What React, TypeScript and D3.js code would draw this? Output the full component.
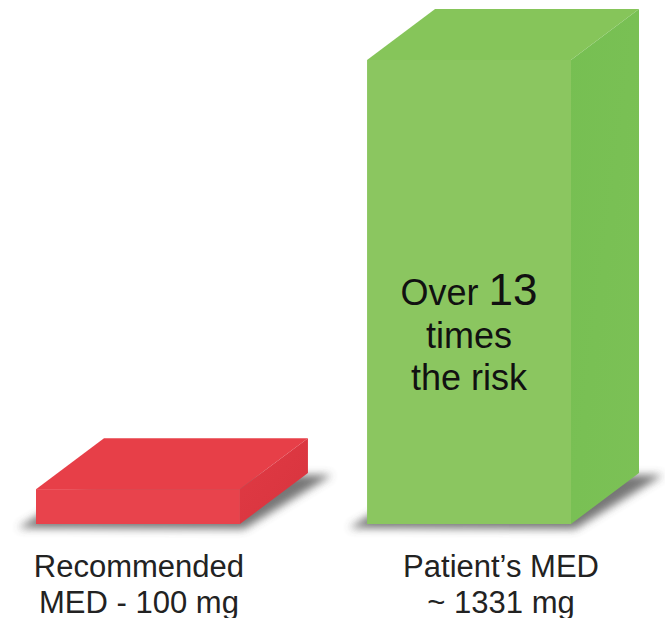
import React from 'react';
import * as d3 from 'd3';

const categories = ['Recommended', 'Patient'];
const medValues = [100, 1331];
const labelLines = [
  ['Recommended', 'MED - 100 mg'],
  ["Patient\u2019s MED", '~ 1331 mg'],
];
const barColors = [
  { top: '#e73f48', front: '#e8434c', side: '#d8343e', sideDark: '#e03a44' },
  { top: '#86c55a', front: '#8bc660', side: '#7cc156', sideDark: '#76bf52' },
];

const WIDTH = 665;
const HEIGHT = 618;
const BASE_Y = 524;
const DEPTH_X = 68;
const DEPTH_Y = -51;
const LABEL_DX = [1, 32];
const FONT = '"Liberation Sans", Arial, Helvetica, sans-serif';

export default function App() {
  const xScale = d3
    .scaleBand<string>()
    .domain(categories)
    .range([36, 571])
    .paddingInner(0.384)
    .paddingOuter(0);

  const yScale = d3
    .scaleLinear()
    .domain([0, 1331])
    .range([BASE_Y, 60]);

  const bw = xScale.bandwidth();
  const pts = (p: [number, number][]) => p.map((d) => d.join(',')).join(' ');

  const bars = categories.map((c, i) => {
    const x0 = xScale(c) ?? 0;
    const x1 = x0 + bw;
    const yTop = yScale(medValues[i]);
    const col = barColors[i];
    const shadow: [number, number][] = [
      [x0 - 18, BASE_Y + 4],
      [x1 + 4, BASE_Y + 5],
      [x1 + DEPTH_X + 24, BASE_Y + DEPTH_Y + 2],
      [x0 + DEPTH_X, BASE_Y + DEPTH_Y + 2],
    ];
    const top: [number, number][] = [
      [x0, yTop],
      [x0 + DEPTH_X, yTop + DEPTH_Y],
      [x1 + DEPTH_X, yTop + DEPTH_Y],
      [x1, yTop],
    ];
    const side: [number, number][] = [
      [x1, yTop],
      [x1 + DEPTH_X, yTop + DEPTH_Y],
      [x1 + DEPTH_X, BASE_Y + DEPTH_Y],
      [x1, BASE_Y],
    ];
    return (
      <g key={c}>
        <polygon points={pts(shadow)} fill="#4a4a4a" opacity={0.75} filter="url(#blur)" />
        <polygon points={pts(top)} fill={col.top} />
        <polygon points={pts(side)} fill={`url(#side${i})`} />
        <rect x={x0} y={yTop} width={bw} height={BASE_Y - yTop} fill={col.front} />
      </g>
    );
  });

  // category labels under the bars
  const labels = categories.map((c, i) => {
    const cx = (xScale(c) ?? 0) + bw / 2 + LABEL_DX[i];
    return (
      <text
        key={c}
        x={cx}
        textAnchor="middle"
        fontFamily={FONT}
        fontSize={31}
        fill="#222"
      >
        <tspan x={cx} y={577}>{labelLines[i][0]}</tspan>
        <tspan x={cx} y={613}>{labelLines[i][1]}</tspan>
      </text>
    );
  });

  const gx = (xScale('Patient') ?? 0) + bw / 2;

  return (
    <svg
      width={WIDTH}
      height={HEIGHT}
      style={{ position: 'absolute', left: 0, top: 0, background: '#fff' }}
    >
      <defs>
        <filter id="blur" x="-20%" y="-50%" width="140%" height="200%">
          <feGaussianBlur stdDeviation="4" />
        </filter>
        {barColors.map((col, i) => (
          <linearGradient key={i} id={`side${i}`} x1="0" y1="0" x2="1" y2="1">
            <stop offset="0%" stopColor={col.sideDark} />
            <stop offset="100%" stopColor={col.side} />
          </linearGradient>
        ))}
      </defs>
      <rect width={WIDTH} height={HEIGHT} fill="#fff" />
      {bars}
      {labels}
      <text textAnchor="middle" fontFamily={FONT} fill="#111">
        <tspan x={gx} y={305} fontSize={36}>Over </tspan>
        <tspan fontSize={44}>13</tspan>
        <tspan x={gx} y={348} fontSize={36}>times</tspan>
        <tspan x={gx} y={390} fontSize={36}>the risk</tspan>
      </text>
    </svg>
  );
}
